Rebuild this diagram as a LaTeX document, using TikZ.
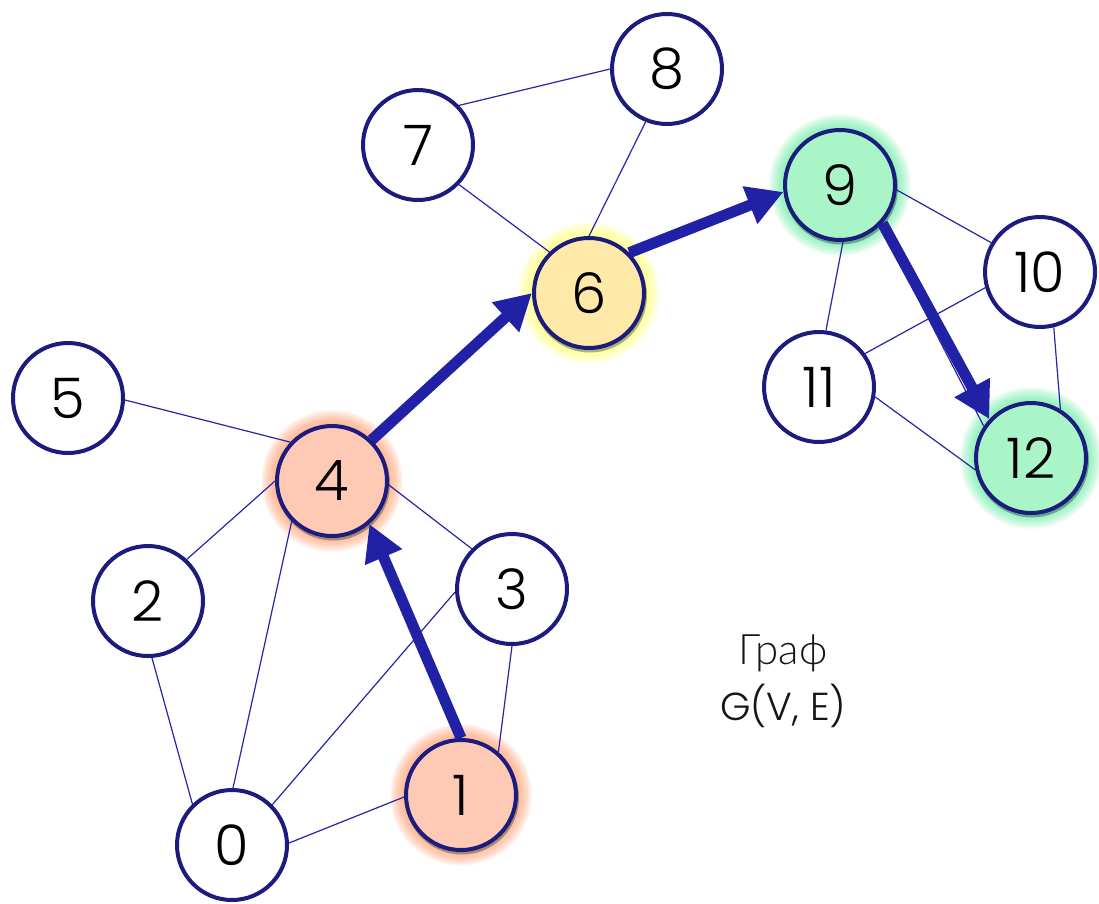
\documentclass[tikz,border=0pt]{standalone}
\usepackage{fontspec}
\setmainfont{Poppins Light}
\newfontfamily\cyrfont{Lato Light}
\usetikzlibrary{arrows.meta,calc}

\pgfdeclarelayer{paper}
\pgfdeclarelayer{glowlayer}
\pgfdeclarelayer{edgelayer}
\pgfsetlayers{paper,glowlayer,edgelayer,main}

\definecolor{navy}{HTML}{1C1C7E}
\definecolor{edgeblue}{HTML}{2626A6}
\definecolor{arrowblue}{HTML}{2121A6}
\definecolor{peach}{HTML}{FFCAB5}
\definecolor{peachglow}{HTML}{FF9F70}
\definecolor{cream}{HTML}{FFE9A8}
\definecolor{creamglow}{HTML}{FFFF70}
\definecolor{mint}{HTML}{A9F5C8}
\definecolor{mintglow}{HTML}{6CF0A8}
\definecolor{textgray}{HTML}{161616}

\tikzset{
  vertex/.style={circle, draw=navy, line width=4pt, fill=white,
    minimum size=110pt, inner sep=0pt,
    font=\fontsize{56}{56}\selectfont},
  edge/.style={draw=edgeblue, line width=1.2pt},
  route/.style={draw=arrowblue, line width=11pt, line cap=butt,
    -{Triangle[length=36pt,width=38pt]}},
  caption/.style={text=textgray, anchor=base, inner sep=0pt},
}

\begin{document}
\begin{tikzpicture}[x=1pt,y=-1pt]
  \begin{pgfonlayer}{paper}
    \fill[white] (0,0) rectangle (1099,903);
  \end{pgfonlayer}
  \useasboundingbox (0,0) rectangle (1099,903);

  % vertices
  \node[vertex] (n0) at (232,845) {0};
  \node[vertex, fill=peach] (n1) at (461,795) {1};
  \node[vertex] (n2) at (148,601) {2};
  \node[vertex] (n3) at (512,589) {3};
  \node[vertex, fill=peach] (n4) at (332,481) {4};
  \node[vertex] (n5) at (68,398) {5};
  \node[vertex, fill=cream] (n6) at (589,293) {6};
  \node[vertex] (n7) at (418,145) {7};
  \node[vertex] (n8) at (667,69) {8};
  \node[vertex, fill=mint] (n9) at (840,185) {9};
  \node[vertex] (n10) at (1040,272) {10};
  \node[vertex] (n11) at (819,387) {11};
  \node[vertex, fill=mint] (n12) at (1031,458) {12};

  % soft halos around the highlighted vertices
  \begin{pgfonlayer}{glowlayer}
    \foreach \n/\c in {n1/peachglow, n4/peachglow, n6/creamglow, n9/mintglow, n12/mintglow}{
      \foreach \k in {1,...,16}{
        \fill[\c, opacity=0.075] (\n) circle[radius={(55+\k)*1pt}];
      }
      \fill[black!70!teal, opacity=0.35] ($(\n)+(1,2.5)$) circle[radius=57pt];
    }
  \end{pgfonlayer}

  % plain edges
  \begin{pgfonlayer}{edgelayer}
    \draw[edge] (n7.44) -- (n8.180);
    \draw[edge] (n7.-44) -- (n6.134);
    \draw[edge] (n8.-112) -- (n6.90);
    \draw[edge] (n9.-5) -- (n10.149);
    \draw[edge] (n9.-87) -- (n11.83);
    \draw[edge] (n9.-45) -- (n12.146);
    \draw[edge] (n10.196) -- (n11.36);
    \draw[edge] (n10.-76) -- (n12.59);
    \draw[edge] (n11.-10) -- (n12.192);
    \draw[edge] (n5.-2) -- (n4.137);
    \draw[edge] (n2.47) -- (n4.180);
    \draw[edge] (n0.89) -- (n4.225);
    \draw[edge] (n2.-86) -- (n0.134);
    \draw[edge] (n0.45) -- (n3.183);
    \draw[edge] (n0.2) -- (n1.182);
    \draw[edge] (n1.49) -- (n3.-90);
    \draw[edge] (n3.135) -- (n4.-4);
  \end{pgfonlayer}

  % highlighted route
  \draw[route] (n1.90) -- (n4.-49);
  \draw[route] (n4.46) -- (n6.180);
  \draw[route] (n6.45) -- (n9.187);
  \draw[route] (n9.-42) -- (n12.137);

  % caption
  \node[caption, font=\cyrfont\fontsize{42}{42}\selectfont] (title) at (783,664) {Граф};
  \node[caption, font=\fontsize{39}{39}\selectfont] (sig) at (783,720) {G(V, E)};
\end{tikzpicture}
\end{document}
